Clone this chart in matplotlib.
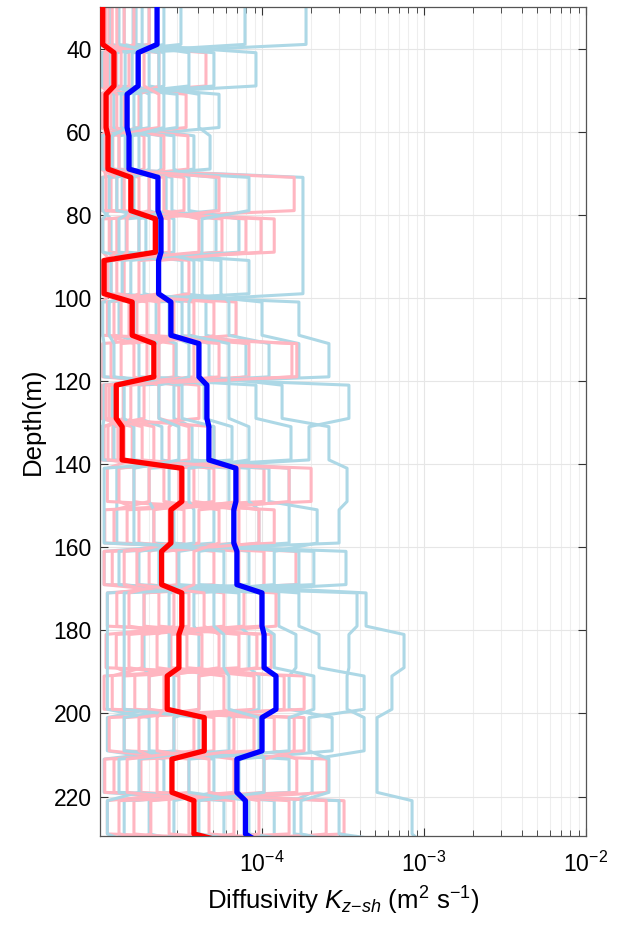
import numpy as np
import matplotlib
matplotlib.use("Agg")
import matplotlib.pyplot as plt
from matplotlib.ticker import LogLocator, FixedLocator, NullFormatter

plt.rcParams['font.family'] = ['Liberation Sans', 'DejaVu Sans']
plt.rcParams['mathtext.fontset'] = 'custom'
plt.rcParams['mathtext.rm'] = 'Liberation Sans'
plt.rcParams['mathtext.it'] = 'Liberation Sans:italic'

# depth bin edges (m): 30-40, 40-50, ..., 230-240
depth_edges = [30, 40, 50, 60, 70, 80, 90, 100, 110, 120, 130, 140, 150,
               160, 170, 180, 190, 200, 210, 220, 230, 240]

# Values in units of 1e-5 m^2 s^-1.  Each row = one depth bin, 12 profiles per bin.
blue_bins = [
    [1.41, 2.01, 1.04, 18.7, 1.67, 3.16, 1.17, 2.48, 1.60, 7.85, 1.31, 1.82],
    [2.48, 1.27, 5.05, 1.58, 9.18, 1.03, 2.01, 1.43, 3.54, 1.14, 2.31, 1.74],
    [1.62, 5.43, 1.35, 2.01, 1.11, 2.99, 4.08, 1.03, 1.22, 1.79, 2.48, 1.47],
    [3.80, 1.43, 1.74, 1.11, 2.38, 1.31, 4.78, 2.86, 2.01, 1.03, 1.58, 1.19],
    [1.37, 2.78, 1.04, 17.9, 2.01, 5.20, 1.14, 3.54, 1.62, 8.31, 1.27, 2.56],
    [1.92, 5.20, 1.17, 17.9, 2.86, 1.45, 1.04, 7.21, 1.31, 4.26, 2.31, 1.74],
    [4.26, 1.37, 3.21, 17.9, 1.04, 8.31, 1.87, 1.17, 5.58, 1.55, 3.80, 2.31],
    [4.51, 1.31, 10.0, 2.22, 16.9, 1.04, 3.21, 1.62, 6.25, 1.14, 3.54, 2.67],
    [7.96, 1.74, 16.9, 2.95, 25.9, 1.06, 4.71, 2.31, 11.05, 1.22, 6.25, 3.54],
    [2.86, 34.4, 1.74, 4.39, 1.19, 9.18, 13.3, 1.06, 1.41, 3.21, 6.25, 2.31],
    [3.70, 19.5, 2.41, 6.53, 1.22, 15.1, 25.9, 1.04, 1.62, 5.05, 8.31, 3.07],
    [14.7, 2.67, 4.71, 1.27, 8.31, 2.01, 33.5, 11.05, 6.25, 1.06, 3.54, 1.62],
    [14.7, 2.86, 5.05, 1.27, 9.58, 2.15, 29.9, 21.9, 6.71, 1.06, 3.80, 1.62],
    [2.31, 8.31, 1.06, 33.0, 4.08, 16.9, 1.31, 11.9, 3.07, 20.9, 1.74, 5.82],
    [12.7, 1.87, 38.6, 3.80, 43.9, 1.11, 7.21, 2.67, 16.9, 1.41, 10.0, 5.05],
    [16.2, 1.87, 34.4, 4.08, 75.3, 1.11, 8.31, 2.67, 22.5, 1.41, 11.9, 5.82],
    [14.7, 2.01, 33.5, 4.08, 63.4, 1.11, 9.58, 2.86, 42.7, 1.41, 20.9, 6.25],
    [27.1, 1.11, 42.7, 2.86, 51.3, 2.01, 6.25, 1.41, 19.5, 4.08, 14.7, 9.58],
    [7.21, 2.48, 20.4, 1.06, 51.3, 14.7, 1.31, 5.05, 25.9, 1.74, 3.54, 10.3],
    [2.01, 11.9, 15.8, 5.82, 84.4, 1.41, 29.9, 2.86, 17.4, 1.11, 8.31, 4.08],
    [3.54, 12.7, 45.7, 5.43, 97.2, 1.14, 70.1, 2.31, 29.9, 1.51, 19.5, 8.31],
]

pink_bins = [
    [1.14, 1.01, 1.41, 1.03, 2.01, 1.06, 1.01, 1.19, 1.04, 1.62, 1.09, 1.27],
    [1.14, 4.51, 1.04, 1.51, 1.01, 1.26, 2.31, 1.07, 1.87, 1.19, 1.11, 1.35],
    [1.41, 1.06, 3.40, 1.01, 1.17, 1.01, 1.74, 1.09, 2.31, 1.03, 1.27, 1.12],
    [1.04, 1.87, 1.14, 3.49, 1.01, 1.31, 1.06, 2.48, 1.01, 1.20, 1.51, 1.09],
    [1.74, 1.03, 3.30, 1.17, 15.8, 1.41, 1.09, 2.01, 1.27, 5.43, 1.55, 2.48],
    [1.74, 11.9, 1.14, 5.66, 1.04, 2.67, 9.86, 1.27, 7.96, 2.15, 1.47, 4.08],
    [1.41, 1.04, 3.54, 1.01, 1.17, 1.01, 1.74, 1.07, 2.31, 1.03, 1.27, 1.11],
    [1.22, 3.80, 1.69, 6.91, 1.03, 2.31, 1.35, 5.05, 1.11, 1.95, 2.86, 1.51],
    [2.86, 1.04, 8.31, 1.35, 16.4, 1.95, 1.17, 3.80, 1.62, 15.3, 2.31, 5.43],
    [1.20, 4.08, 1.04, 1.87, 1.01, 1.39, 3.07, 1.09, 2.31, 1.27, 1.14, 1.55],
    [2.15, 1.20, 5.05, 1.01, 1.58, 1.06, 2.67, 1.29, 3.54, 1.12, 1.82, 1.41],
    [1.62, 10.3, 3.07, 20.1, 1.11, 5.05, 2.01, 14.7, 1.31, 3.80, 7.21, 2.48],
    [3.30, 1.07, 7.21, 1.47, 11.9, 2.15, 1.22, 4.08, 1.74, 9.58, 2.67, 5.43],
    [2.01, 16.2, 1.19, 5.05, 1.06, 2.99, 10.3, 1.41, 7.21, 2.41, 1.69, 3.80],
    [5.82, 1.87, 12.2, 1.11, 3.54, 1.27, 7.74, 2.31, 9.86, 1.51, 4.39, 2.86],
    [1.51, 7.21, 2.74, 11.4, 1.09, 4.26, 1.82, 9.31, 1.26, 3.44, 5.43, 2.25],
    [3.07, 1.06, 8.92, 1.39, 18.2, 2.01, 1.19, 4.08, 1.64, 13.7, 2.48, 5.82],
    [2.86, 18.2, 1.41, 8.92, 1.14, 5.05, 15.8, 1.74, 11.9, 3.80, 2.25, 6.71],
    [6.71, 1.79, 25.2, 1.07, 3.54, 1.22, 10.3, 2.25, 16.4, 1.47, 4.71, 2.78],
    [1.62, 14.7, 3.54, 32.1, 1.11, 6.71, 2.06, 24.9, 1.31, 4.71, 9.58, 2.67],
    [5.82, 1.14, 16.9, 1.87, 29.9, 3.30, 1.41, 8.31, 2.48, 22.5, 4.39, 11.9],
]

red_mean = [1.04, 1.22, 1.09, 1.12, 1.55, 2.20, 1.06, 1.58, 2.15, 1.26, 1.37,
            3.20, 2.74, 2.40, 3.20, 3.07, 2.60, 4.40, 2.78, 3.80, 6.00]
blue_mean = [2.25, 1.72, 1.47, 1.51, 2.28, 2.38, 2.30, 2.74, 4.08, 4.57, 4.70,
             6.90, 6.70, 7.00, 10.0, 10.3, 12.2, 10.0, 7.00, 7.90, 9.60]

y_ticks = [40, 60, 80, 100, 120, 140, 160, 180, 200, 220]
x_ticks = [1e-4, 1e-3, 1e-2]
xlabel = r'Diffusivity $K_{z\mathrm{-}sh}$ (m$^2$ s$^{-1}$)'
ylabel = 'Depth(m)'

UNIT = 1e-5


def step_xy(values):
    xs, ys = [], []
    for i, v in enumerate(values):
        top = depth_edges[i] + (0 if i == 0 else 1)
        bot = depth_edges[i + 1] - 1
        xs += [v * UNIT, v * UNIT]
        ys += [top, bot]
    return xs, ys


fig = plt.figure(figsize=(6.26, 9.36), dpi=100)
ax = fig.add_axes([100 / 626, 1 - 836 / 936, 486 / 626, 829 / 936])

blue_arr = np.array(blue_bins)
pink_arr = np.array(pink_bins)
n_prof = blue_arr.shape[1]
for k in range(n_prof):
    x, y = step_xy(blue_arr[:, k])
    ax.plot(x, y, color='#add8e6', lw=2.2, solid_joinstyle='round', zorder=2)
    x, y = step_xy(pink_arr[:, k])
    ax.plot(x, y, color='#ffb6c1', lw=2.2, solid_joinstyle='round', zorder=2)

x, y = step_xy(red_mean)
ax.plot(x, y, color='#ff0000', lw=3.8, solid_joinstyle='round', zorder=4)
x, y = step_xy(blue_mean)
ax.plot(x, y, color='#0000ff', lw=3.8, solid_joinstyle='round', zorder=4)

ax.set_xscale('log')
ax.set_xlim(1e-5, 1e-2)
ax.set_ylim(229.5, 30)
ax.set_yticks(y_ticks)
ax.xaxis.set_major_locator(FixedLocator(x_ticks))
ax.xaxis.set_minor_locator(LogLocator(base=10, subs=np.arange(2, 10), numticks=20))
ax.xaxis.set_minor_formatter(NullFormatter())

ax.grid(True, which='major', axis='both', color='#e6e6e6', lw=0.8, zorder=0)
ax.grid(True, which='minor', axis='x', color='#eeeeee', lw=0.8, zorder=0)
ax.set_axisbelow(True)

ax.tick_params(which='both', direction='in', top=True, right=True, labelsize=16.5,
               color='#333333')
ax.tick_params(which='major', length=6, width=0.8)
ax.tick_params(which='minor', length=4, width=0.6)
ax.tick_params(axis='x', pad=11)
ax.tick_params(axis='y', pad=6)
for s in ax.spines.values():
    s.set_color('#555555')
    s.set_linewidth(0.9)

ax.set_xlabel(xlabel, fontsize=18.5, labelpad=6)
ax.set_ylabel(ylabel, fontsize=18.5, labelpad=6)

fig.savefig('out.png', dpi=100)
